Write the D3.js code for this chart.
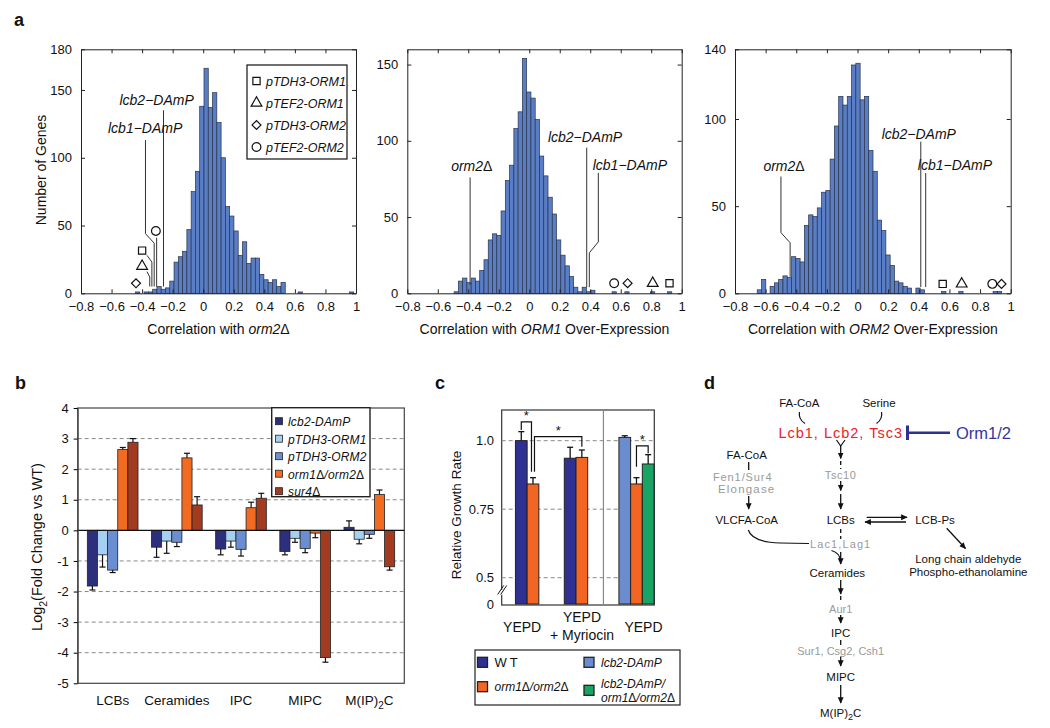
<!DOCTYPE html>
<html>
<head>
<meta charset="utf-8">
<script src="https://cdn.jsdelivr.net/npm/d3@7"></script>
<style>
  body { margin: 0; background: #fff; }
  svg text { font-family: "Liberation Sans", Arial, Helvetica, sans-serif; fill: #111; }
</style>
</head>
<body>
<div id="fig"></div>
<script>
// ---------- panel a : histogram counts (bin width 0.028) ----------
var binWidth = 0.028;
var xTickVals = [-0.8, -0.6, -0.4, -0.2, 0, 0.2, 0.4, 0.6, 0.8, 1];

var h1Start = -0.443;
var h1Counts = [1,0,1,1,3,5,3,4,9,23,27,31,47,75,90,138,166,137,148,126,100,64,57,46,28,38,22,26,26,14,10,8,10,5,8,
                0,0,0,1,0,0,0,0,0,0,0,0,0,0,0,1];
var h2Start = -0.493;
var h2Counts = [1,8,10,7,10,8,15,22,35,39,38,54,74,84,108,119,154,132,128,114,90,77,63,52,35,25,18,11,4,1,4,1,2,
                0,0,0,0,1,0,0,1,0,0,0,0,0,1,0,0,0,1];
var h3Start = -0.655;
var h3Counts = [2,8,0,4,6,8,10,9,21,20,18,39,45,44,49,58,59,77,96,113,108,113,131,132,111,113,82,70,42,36,22,16,7,6,4,3,0,3,2,
                0,0,0,0,1,0,0,0,1,0,0,0,0,0,0,0,1,1];

var markerNames = ["pTDH3-ORM1", "pTEF2-ORM1", "pTDH3-ORM2", "pTEF2-ORM2"];
var markerTypes = ["square", "triangle", "diamond", "circle"];
var h1MarkX = [-0.40, -0.40, -0.44, -0.31];
var h1MarkY = [31.5, 20, 7.4, 46];
var h2MarkX = [0.92, 0.81, 0.645, 0.557];
var h2MarkY = [6.6, 6.6, 6.6, 6.6];
var h3MarkX = [0.556, 0.68, 0.94, 0.88];
var h3MarkY = [5.4, 5.4, 5.4, 5.4];

// ---------- panel b : log2 fold change ----------
var bCats = ["LCBs", "Ceramides", "IPC", "MIPC", "M(IP)2C"];
var bSeries = ["lcb2-DAmP", "pTDH3-ORM1", "pTDH3-ORM2", "orm1Δ/orm2Δ", "sur4Δ"];
var bLcb2    = [-1.82, -0.55, -0.61, -0.69, 0.10];
var bOrm1OE  = [-0.80, -0.35, -0.35, -0.26, -0.29];
var bOrm2OE  = [-1.30, -0.39, -0.62, -0.59, -0.13];
var bOrmDel  = [2.64, 2.37, 0.74, -0.09, 1.17];
var bSur4    = [2.88, 0.83, 1.05, -4.16, -1.19];
var bLcb2Err   = [0.13, 0.33, 0.19, 0.11, 0.21];
var bOrm1OEErr = [0.40, 0.40, 0.20, 0.13, 0.15];
var bOrm2OEErr = [0.08, 0.14, 0.22, 0.14, 0.13];
var bOrmDelErr = [0.07, 0.15, 0.18, 0.15, 0.15];
var bSur4Err   = [0.12, 0.27, 0.16, 0.15, 0.11];
var bTicks = [-5, -4, -3, -2, -1, 0, 1, 2, 3, 4];

// ---------- panel c : relative growth rate ----------
var cGroups = ["YEPD", "YEPD|+ Myriocin", "YEPD"];
var cStrains = ["WT", "orm1Δ/orm2Δ", "lcb2-DAmP", "lcb2-DAmP/|orm1Δ/orm2Δ"];
var cGroupOf  = [0, 0, 1, 1, 2, 2, 2];
var cStrainOf = [0, 1, 0, 1, 2, 1, 3];
var cRate = [1.0, 0.842, 0.936, 0.939, 1.012, 0.842, 0.915];
var cErr  = [0.033, 0.023, 0.040, 0.027, 0.006, 0.023, 0.034];
var cTicks = [0.5, 0.75, 1.0];

var svg = d3.select("#fig").append("svg")
    .attr("width", 1050)
    .attr("height", 728);

var defs = svg.append("defs");
defs.append("marker")
    .attr("id", "ah")
    .attr("viewBox", "0 0 10 10")
    .attr("refX", 9).attr("refY", 5)
    .attr("markerWidth", 5).attr("markerHeight", 5)
    .attr("orient", "auto")
  .append("path")
    .attr("d", "M0,0.5L10,5L0,9.5z")
    .attr("fill", "#111");

function panelLetter(s, x, y) {
  svg.append("text").attr("x", x).attr("y", y)
      .attr("font-size", 18).attr("font-weight", "bold").text(s);
}
panelLetter("a", 14, 26);
panelLetter("b", 15, 389);
panelLetter("c", 435, 389);
panelLetter("d", 704, 389);

function symbolFor(t) {
  if (t === "square") return d3.symbol().type(d3.symbolSquare).size(52)();
  if (t === "triangle") return d3.symbol().type(d3.symbolTriangle).size(50)();
  if (t === "diamond") return d3.symbol().type(d3.symbolSquare).size(40)();
  return d3.symbol().type(d3.symbolCircle).size(60)();
}
function drawMarker(g, t, px, py) {
  g.append("path")
      .attr("d", symbolFor(t))
      .attr("transform", "translate(" + px + "," + py + ")" + (t === "diamond" ? " rotate(45)" : ""))
      .attr("fill", "none")
      .attr("stroke", "#111")
      .attr("stroke-width", 1.2);
}

// italic gene names with upright delta
function geneText(t, s) {
  s.split("Δ").forEach(function(p, k, arr) {
    t.append("tspan").attr("font-style", "italic").text(p);
    if (k < arr.length - 1) t.append("tspan").attr("font-style", "normal").text("Δ");
  });
}

// ---------- histogram panels ----------
var histTop = 49.3, histBottom = 293.3;

function drawHist(cfg) {
  var g = svg.append("g");
  var x = d3.scaleLinear().domain([-0.8, 1]).range([cfg.x0, cfg.x1]);
  var y = d3.scaleLinear().domain([0, cfg.ymax]).range([histBottom, histTop]);

  var bins = cfg.counts.map(function(c, i) { return {lo: cfg.start + i * binWidth, n: c}; })
      .filter(function(d) { return d.n > 0; });

  g.selectAll("rect.bar")
    .data(bins)
    .enter().append("rect")
      .attr("class", "bar")
      .attr("x", function(d) { return x(d.lo); })
      .attr("y", function(d) { return y(d.n); })
      .attr("width", function(d) { return x(d.lo + binWidth) - x(d.lo); })
      .attr("height", function(d) { return y(0) - y(d.n); })
      .attr("fill", "#5a7ec6")
      .attr("stroke", "#2a3346")
      .attr("stroke-width", 0.7);

  var fmt = function(d) { return d === 0 ? "0" : d === 1 ? "1" : d3.format(".1f")(d); };
  var ax = [
    g.append("g").attr("transform", "translate(0," + histBottom + ")")
      .call(d3.axisBottom(x).tickValues(xTickVals).tickSize(-4).tickSizeOuter(0).tickPadding(8).tickFormat(fmt)),
    g.append("g").attr("transform", "translate(0," + histTop + ")")
      .call(d3.axisTop(x).tickValues(xTickVals).tickSize(-4).tickSizeOuter(0).tickFormat("")),
    g.append("g").attr("transform", "translate(" + cfg.x0 + ",0)")
      .call(d3.axisLeft(y).tickValues(cfg.yTicks).tickSize(-4).tickSizeOuter(0).tickPadding(9)),
    g.append("g").attr("transform", "translate(" + cfg.x1 + ",0)")
      .call(d3.axisRight(y).tickValues(cfg.yTicks).tickSize(-4).tickSizeOuter(0).tickFormat(""))
  ];
  ax.forEach(function(a) {
    a.selectAll(".domain").attr("stroke", "#222");
    a.selectAll(".tick line").attr("stroke", "#222");
    a.selectAll("text").attr("font-size", 13).attr("font-family", null);
  });

  // annotation leader lines
  var line = d3.line().x(function(d) { return x(d[0]); }).y(function(d) { return y(d[1]); });
  cfg.leaders.forEach(function(pts) {
    g.append("path").attr("d", line(pts)).attr("fill", "none")
        .attr("stroke", "#333").attr("stroke-width", 1);
  });
  cfg.labels.forEach(function(l) {
    var t = g.append("text").attr("x", x(l[0])).attr("y", y(l[1]))
        .attr("text-anchor", "middle").attr("font-size", 14);
    if (l[2] === "orm2Δ") geneText(t, l[2]);
    else t.attr("font-style", "italic").text(l[2]);
  });

  // over-expression markers
  cfg.markX.forEach(function(mx, i) {
    drawMarker(g, markerTypes[i], x(mx), y(cfg.markY[i]));
  });

  // x label
  var xl = g.append("text").attr("x", (cfg.x0 + cfg.x1) / 2).attr("y", 334)
      .attr("text-anchor", "middle").attr("font-size", 14);
  xl.append("tspan").text("Correlation with ");
  xl.append("tspan").attr("font-style", "italic").text(cfg.xlabGene);
  xl.append("tspan").text(cfg.xlabTail);
  return g;
}

drawHist({
  x0: 81, x1: 356, ymax: 180, yTicks: [0, 50, 100, 150, 180],
  start: h1Start, counts: h1Counts, markX: h1MarkX, markY: h1MarkY,
  leaders: [
    [[-0.378, 113], [-0.378, 44], [-0.321, 37], [-0.321, 5]],
    [[-0.26, 135], [-0.26, 5]],
    [[-0.305, 41], [-0.305, 5]],
    [[-0.368, 28], [-0.336, 23], [-0.336, 5]],
    [[-0.368, 16], [-0.35, 12], [-0.35, 5]]
  ],
  labels: [[-0.38, 118, "lcb1−DAmP"], [-0.305, 139, "lcb2−DAmP"]],
  xlabGene: "orm2", xlabTail: "Δ"
});
// y label of the first histogram
svg.append("text")
    .attr("transform", "translate(46,170) rotate(-90)")
    .attr("text-anchor", "middle").attr("font-size", 14)
    .text("Number of Genes");

// legend of histogram 1
var leg1 = svg.append("g");
leg1.append("rect").attr("x", 247).attr("y", 65).attr("width", 100).attr("height", 94)
    .attr("fill", "#fff").attr("stroke", "#111").attr("stroke-width", 1.2);
markerNames.forEach(function(n, i) {
  drawMarker(leg1, markerTypes[i], 256.5, 81 + i * 22);
  leg1.append("text").attr("x", 266).attr("y", 81 + i * 22 + 4.5)
      .attr("font-size", 12.5).attr("font-style", "italic").text(n);
});

drawHist({
  x0: 407.3, x1: 681.7, ymax: 160, yTicks: [0, 50, 100, 150],
  start: h2Start, counts: h2Counts, markX: h2MarkX, markY: h2MarkY,
  leaders: [
    [[-0.388, 76], [-0.388, 5.5]],
    [[0.377, 95.5], [0.377, 4]],
    [[0.453, 79], [0.453, 33.7], [0.394, 26.5], [0.394, 4]]
  ],
  labels: [[-0.377, 80, "orm2Δ"], [0.366, 99, "lcb2−DAmP"], [0.66, 81, "lcb1−DAmP"]],
  xlabGene: "ORM1", xlabTail: " Over-Expression"
});

drawHist({
  x0: 735, x1: 1010.7, ymax: 140, yTicks: [0, 50, 100, 140],
  start: h3Start, counts: h3Counts, markX: h3MarkX, markY: h3MarkY,
  leaders: [
    [[-0.5, 67], [-0.5, 34.8], [-0.44, 29], [-0.44, 9.4]],
    [[0.413, 87], [0.413, 3.6]],
    [[0.445, 69], [0.445, 3.6]]
  ],
  labels: [[-0.48, 70, "orm2Δ"], [0.40, 88.5, "lcb2−DAmP"], [0.636, 70.5, "lcb1−DAmP"]],
  xlabGene: "ORM2", xlabTail: " Over-Expression"
});

// ---------- panel b ----------
(function() {
  var left = 77.7, right = 404.3, top = 408, bottom = 683.3;
  var g = svg.append("g");
  var y = d3.scaleLinear().domain([-5, 4]).range([bottom, top]);
  var x0 = d3.scaleBand().domain(bCats).range([left, right]).paddingInner(0.21).paddingOuter(0.15);
  var x1 = d3.scaleBand().domain(bSeries).range([0, x0.bandwidth()]);
  var colors = ["#2b2f7c", "#a6d0f1", "#6a8ed0", "#f26b22", "#a33b20"];
  var vals = [bLcb2, bOrm1OE, bOrm2OE, bOrmDel, bSur4];
  var errs = [bLcb2Err, bOrm1OEErr, bOrm2OEErr, bOrmDelErr, bSur4Err];

  g.append("rect").attr("x", left).attr("y", top).attr("width", right - left).attr("height", bottom - top)
      .attr("fill", "#fff").attr("stroke", "#444").attr("stroke-width", 1.2);

  g.selectAll("line.grid").data(bTicks.filter(function(t) { return t !== 0 && t !== 4 && t !== -5; }))
    .enter().append("line")
      .attr("x1", left).attr("x2", right)
      .attr("y1", function(d) { return y(d); }).attr("y2", function(d) { return y(d); })
      .attr("stroke", "#888").attr("stroke-dasharray", "4,3").attr("stroke-width", 1);

  var rows = [];
  bCats.forEach(function(c, ci) {
    bSeries.forEach(function(s, si) {
      rows.push({cat: c, ser: s, si: si, v: vals[si][ci], e: errs[si][ci]});
    });
  });

  g.selectAll("rect.bar").data(rows).enter().append("rect")
      .attr("x", function(d) { return x0(d.cat) + x1(d.ser); })
      .attr("width", x1.bandwidth())
      .attr("y", function(d) { return y(Math.max(0, d.v)); })
      .attr("height", function(d) { return Math.abs(y(d.v) - y(0)); })
      .attr("fill", function(d) { return colors[d.si]; })
      .attr("stroke", "#222").attr("stroke-width", 0.8);

  // one-sided error bars
  rows.forEach(function(d) {
    var cx = x0(d.cat) + x1(d.ser) + x1.bandwidth() / 2;
    var end = d.v >= 0 ? d.v + d.e : d.v - d.e;
    g.append("line").attr("x1", cx).attr("x2", cx).attr("y1", y(d.v)).attr("y2", y(end))
        .attr("stroke", "#111").attr("stroke-width", 1.2);
    g.append("line").attr("x1", cx - 3).attr("x2", cx + 3).attr("y1", y(end)).attr("y2", y(end))
        .attr("stroke", "#111").attr("stroke-width", 1.2);
  });

  g.append("line").attr("x1", left).attr("x2", right).attr("y1", y(0)).attr("y2", y(0))
      .attr("stroke", "#111").attr("stroke-width", 1.2);

  var ya = g.append("g").attr("transform", "translate(" + left + ",0)")
      .call(d3.axisLeft(y).tickValues(bTicks).tickSize(4).tickSizeOuter(0).tickPadding(5)
            .tickFormat(function(d) { return String(d); }));
  ya.select(".domain").attr("stroke", "#444");
  ya.selectAll("text").attr("font-size", 13).attr("font-family", null);

  bCats.forEach(function(c) {
    var t = g.append("text").attr("x", x0(c) + x0.bandwidth() / 2).attr("y", 705)
        .attr("text-anchor", "middle").attr("font-size", 13.5);
    if (c === "M(IP)2C") {
      t.append("tspan").text("M(IP)");
      t.append("tspan").attr("font-size", 10).attr("dy", 4).text("2");
      t.append("tspan").attr("dy", -4).text("C");
    } else {
      t.text(c);
    }
  });

  var yl = g.append("text").attr("transform", "translate(42,547) rotate(-90)")
      .attr("text-anchor", "middle").attr("font-size", 14.5);
  yl.append("tspan").text("Log");
  yl.append("tspan").attr("font-size", 10.5).attr("dy", 5).text("2");
  yl.append("tspan").attr("dy", -5).text("(Fold Change vs WT)");

  // legend
  var lg = g.append("g");
  lg.append("rect").attr("x", 271.7).attr("y", 407.7).attr("width", 98.3).attr("height", 89)
      .attr("fill", "#fff").attr("stroke", "#222").attr("stroke-width", 1.4);
  bSeries.forEach(function(s, i) {
    var yy = 421.7 + i * 17.5;
    lg.append("rect").attr("x", 275.5).attr("y", yy - 4).attr("width", 7).attr("height", 7)
        .attr("fill", colors[i]).attr("stroke", "#222").attr("stroke-width", 0.8);
    var t = lg.append("text").attr("x", 288).attr("y", yy + 4.5)
        .attr("font-size", 12).attr("letter-spacing", 0.2);
    geneText(t, s);
  });
})();

// ---------- panel c ----------
(function() {
  var left = 501.7, right = 654.3, top = 410, bottom = 605;
  var g = svg.append("g");
  var y = d3.scaleLinear().domain([0, 0.5, 1.112]).range([604, 577.7, top]);
  var xg = d3.scaleBand().domain(d3.range(cGroups.length)).range([left, right]);
  var groupShift = [0, -2, 7.6];
  var labelShift = [-5, 6, 7];
  var barW = 11.7;
  var colors = ["#2e3192", "#f26522", "#6b8ccf", "#1aa463"];

  g.append("rect").attr("x", left).attr("y", top).attr("width", right - left).attr("height", bottom - top)
      .attr("fill", "#fff").attr("stroke", "#333").attr("stroke-width", 1.2);

  g.selectAll("line.grid").data(cTicks).enter().append("line")
      .attr("x1", left).attr("x2", right)
      .attr("y1", function(d) { return y(d); }).attr("y2", function(d) { return y(d); })
      .attr("stroke", "#888").attr("stroke-dasharray", "4,3");

  // separator between experiments
  g.append("line").attr("x1", xg(2)).attr("x2", xg(2)).attr("y1", top).attr("y2", bottom)
      .attr("stroke", "#888").attr("stroke-width", 1.2);

  var bars = cRate.map(function(v, i) {
    var gi = cGroupOf[i];
    var members = cGroupOf.filter(function(q) { return q === gi; }).length;
    var pos = cGroupOf.slice(0, i).filter(function(q) { return q === gi; }).length;
    var cx0 = xg(gi) + xg.bandwidth() / 2 + groupShift[gi] - members * barW / 2;
    return {x: cx0 + pos * barW, v: v, e: cErr[i], s: cStrainOf[i]};
  });

  g.selectAll("rect.bar").data(bars).enter().append("rect")
      .attr("x", function(d) { return d.x; })
      .attr("width", barW)
      .attr("y", function(d) { return y(d.v); })
      .attr("height", function(d) { return y(0) - y(d.v); })
      .attr("fill", function(d) { return colors[d.s]; })
      .attr("stroke", "#222").attr("stroke-width", 1);

  bars.forEach(function(d) {
    var cx = d.x + barW / 2;
    g.append("line").attr("x1", cx).attr("x2", cx).attr("y1", y(d.v)).attr("y2", y(d.v + d.e))
        .attr("stroke", "#111").attr("stroke-width", 1.3);
    g.append("line").attr("x1", cx - 3).attr("x2", cx + 3).attr("y1", y(d.v + d.e)).attr("y2", y(d.v + d.e))
        .attr("stroke", "#111").attr("stroke-width", 1.3);
  });

  // significance brackets: [bar a, bar b, top value, a-leg end, b-leg end, a shift, b shift]
  var brackets = [[0, 1, 1.069, 1.039, 0.887, 0, -1.5], [1, 3, 1.015, 0.887, 0.978, 1.5, 0], [5, 6, 0.981, 0.905, 0.954, 0, 0]];
  brackets.forEach(function(b) {
    var xa = bars[b[0]].x + barW / 2 + b[5], xb = bars[b[1]].x + barW / 2 + b[6];
    g.append("path")
        .attr("d", "M" + xa + "," + y(b[3]) + "V" + y(b[2]) + "H" + xb + "V" + y(b[4]))
        .attr("fill", "none").attr("stroke", "#111").attr("stroke-width", 1.2);
    g.append("text").attr("x", (xa + xb) / 2).attr("y", y(b[2]) - 1.5)
        .attr("text-anchor", "middle").attr("font-size", 13).text("*");
  });

  // y axis labels and break
  cTicks.concat([0]).forEach(function(t) {
    g.append("text").attr("x", 494).attr("y", y(t) + 4.5).attr("text-anchor", "end")
        .attr("font-size", 13).text(t === 1 ? "1.0" : String(t));
  });
  g.append("rect").attr("x", left - 2).attr("y", y(0.27)).attr("width", 4).attr("height", 5).attr("fill", "#fff");
  [0, 3].forEach(function(o) {
    g.append("line").attr("x1", left - 4 + o).attr("y1", y(0.2) + 1).attr("x2", left + 2 + o).attr("y2", y(0.2) - 8)
        .attr("stroke", "#111").attr("stroke-width", 1);
  });

  g.append("text").attr("transform", "translate(461,515) rotate(-90)")
      .attr("text-anchor", "middle").attr("font-size", 13.5).text("Relative Growth Rate");

  cGroups.forEach(function(lbl, gi) {
    var idx = cGroupOf.indexOf(gi);
    var members = cGroupOf.filter(function(q) { return q === gi; }).length;
    var cx = bars[idx].x + members * barW / 2 + labelShift[gi];
    var lines = lbl.split("|");
    lines.forEach(function(l, k) {
      g.append("text").attr("x", cx)
          .attr("y", lines.length === 1 ? 632 : 621.5 + k * 18)
          .attr("text-anchor", "middle").attr("font-size", 14).text(l);
    });
  });

  // legend
  var lg = g.append("g");
  lg.append("rect").attr("x", 475).attr("y", 650).attr("width", 205).attr("height", 55)
      .attr("fill", "#fff").attr("stroke", "#222").attr("stroke-width", 1.2);
  var pos = [[477.5, 662.3], [477.5, 686.7], [584, 662.3], [584, 690.3]];
  cStrains.forEach(function(s, i) {
    lg.append("rect").attr("x", pos[i][0]).attr("y", pos[i][1] - 5).attr("width", 10).attr("height", 10)
        .attr("fill", colors[i]).attr("stroke", "#222").attr("stroke-width", 1.3);
    var lines = s.split("|");
    lines.forEach(function(l, k) {
      var t = lg.append("text").attr("x", pos[i][0] + 17)
          .attr("y", pos[i][1] + 4.5 + (lines.length > 1 ? (k === 0 ? -7 : 7) : 0))
          .attr("font-size", 12);
      if (l === "WT") t.attr("letter-spacing", 3).attr("font-size", 13).text(l);
      else geneText(t, l);
    });
  });
})();

// ---------- panel d : pathway diagram ----------
(function() {
  var g = svg.append("g");
  function txt(x, y, s, opt) {
    opt = opt || {};
    return g.append("text").attr("x", x).attr("y", y)
        .attr("text-anchor", "middle").attr("dominant-baseline", "central")
        .attr("font-size", opt.size || 11.5)
        .attr("letter-spacing", opt.ls || 0)
        .style("fill", opt.color || "#111")
        .text(s);
  }
  function seg(x1, y1, x2, y2, opt) {
    opt = opt || {};
    var l = g.append("line").attr("x1", x1).attr("y1", y1).attr("x2", x2).attr("y2", y2)
        .attr("stroke", "#111").attr("stroke-width", 1.3);
    if (opt.dash) l.attr("stroke-dasharray", "4,3");
    if (opt.arrow) l.attr("marker-end", "url(#ah)");
    return l;
  }
  var gray = "#9a9a9a";
  var cx = 840.7;

  txt(799.3, 402.7, "FA-CoA");
  txt(879, 402.7, "Serine");
  g.append("path").attr("d", "M799.5,412 Q798,419 805,423.5").attr("fill", "none").attr("stroke", "#111").attr("stroke-width", 1.2);
  g.append("path").attr("d", "M881.5,412 Q883,419 876.5,423.5").attr("fill", "none").attr("stroke", "#111").attr("stroke-width", 1.2);
  txt(cx, 432.5, "Lcb1, Lcb2, Tsc3", {size: 14.5, ls: 1, color: "#ec2227"});
  g.append("line").attr("x1", 907.5).attr("x2", 907.5).attr("y1", 425.5).attr("y2", 440)
      .attr("stroke", "#2e3192").attr("stroke-width", 3);
  g.append("line").attr("x1", 907.5).attr("x2", 950).attr("y1", 432.7).attr("y2", 432.7)
      .attr("stroke", "#2e3192").attr("stroke-width", 2.5);
  g.append("text").attr("x", 956).attr("y", 432.7).attr("dominant-baseline", "central")
      .attr("font-size", 16.5).style("fill", "#3536a0").text("Orm1/2");

  // main column
  g.append("path").attr("d", "M836.5,440 L" + cx + ",446 L845,440").attr("fill", "none").attr("stroke", "#111").attr("stroke-width", 1.2);
  seg(cx, 446, cx, 458.5, {arrow: true});
  seg(cx, 461, cx, 469, {dash: true});
  txt(cx, 475, "Tsc10", {size: 11, ls: 0.6, color: gray});
  seg(cx, 481, cx, 490.5, {dash: true, arrow: true});
  seg(cx, 494, cx, 509, {arrow: true});
  txt(cx, 520, "LCBs");
  seg(cx, 529, cx, 539, {dash: true});
  txt(cx, 544, "Lac1,Lag1", {size: 11, ls: 1.1, color: gray});
  seg(cx, 552, cx, 564, {arrow: true});
  txt(837.3, 572.7, "Ceramides");
  seg(cx, 580, cx, 594, {arrow: true});
  seg(cx, 596, cx, 603, {dash: true});
  txt(cx, 609.3, "Aur1", {size: 11, color: gray});
  seg(cx, 615, cx, 623, {arrow: true});
  txt(cx, 633.3, "IPC");
  seg(cx, 640, cx, 645);
  txt(cx, 650.7, "Sur1, Csg2, Csh1", {size: 11, color: gray});
  seg(cx, 656.5, cx, 666, {arrow: true});
  txt(cx, 676.7, "MIPC");
  seg(cx, 685, cx, 703, {arrow: true});
  var m = txt(cx, 713.3, "");
  m.append("tspan").text("M(IP)");
  m.append("tspan").attr("font-size", 9).attr("dy", 4).text("2");
  m.append("tspan").attr("dy", -4).text("C");

  // left column
  txt(746.7, 455, "FA-CoA");
  seg(748.7, 462, 748.7, 470);
  txt(742.7, 476.7, "Fen1/Sur4", {size: 11, ls: 0.9, color: gray});
  txt(746.7, 489.3, "Elongase", {size: 11.5, ls: 1.2, color: gray});
  seg(748.7, 496, 748.7, 509, {arrow: true});
  txt(746.7, 520, "VLCFA-CoA");
  g.append("path").attr("d", "M748.3,530 Q752,542 780,543 L809,543.5")
      .attr("fill", "none").attr("stroke", "#111").attr("stroke-width", 1.2);
  g.append("path").attr("d", "M831.5,550.5 Q840,553 840.5,561")
      .attr("fill", "none").attr("stroke", "#111").attr("stroke-width", 1.2);

  // LCB <-> LCB-Ps
  seg(866.7, 517.3, 907, 517.3, {arrow: true});
  seg(906, 522, 865, 522, {arrow: true});
  txt(935, 520, "LCB-Ps");
  seg(946.7, 528.3, 965.5, 548.5, {arrow: true});
  txt(968.3, 559.3, "Long chain aldehyde", {size: 11.5});
  txt(968.3, 572.3, "Phospho-ethanolamine", {size: 11.5});
})();
</script>
</body>
</html>
